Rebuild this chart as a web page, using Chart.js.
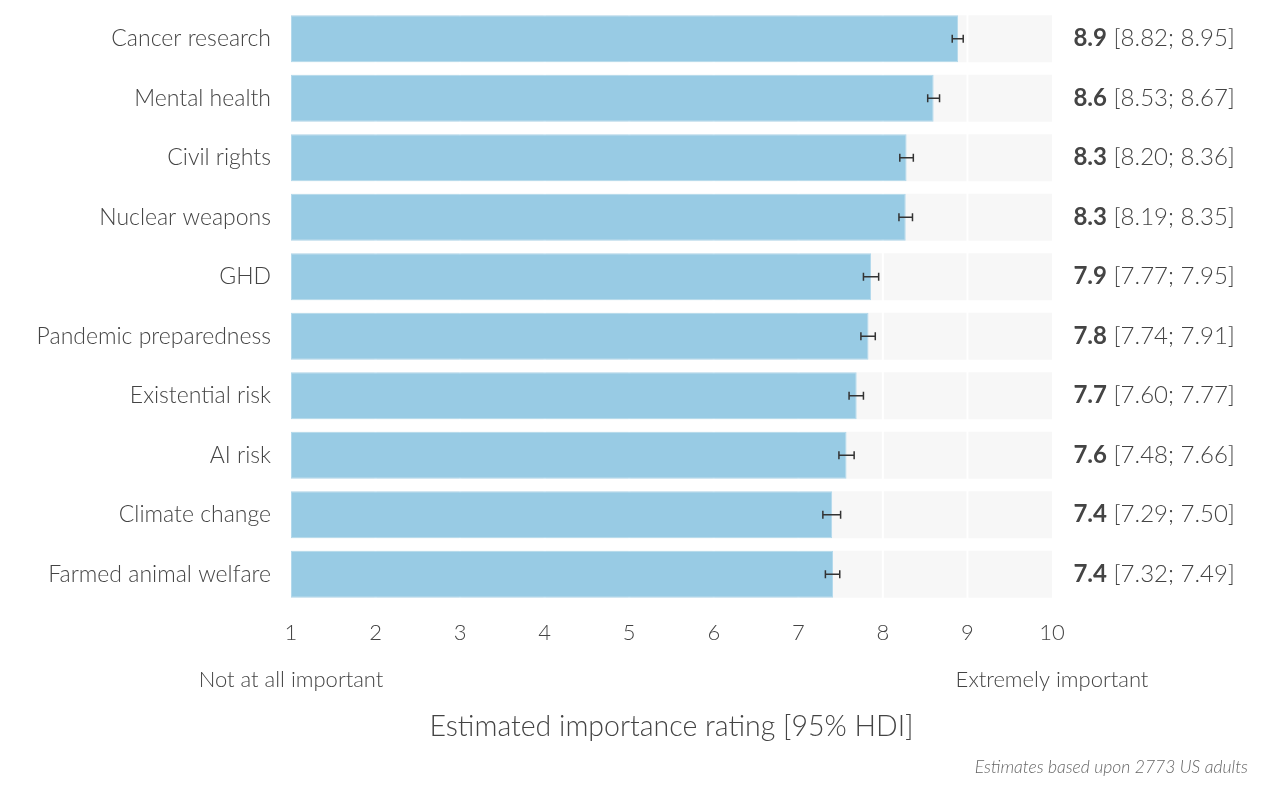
<!DOCTYPE html>
<html>
<head>
<meta charset="utf-8">
<script src="https://cdn.jsdelivr.net/npm/chart.js@4.4.1/dist/chart.umd.min.js"></script>
<style>
  html, body { margin: 0; padding: 0; background: #fff; }
  #wrap { width: 1280px; height: 791px; }
</style>
</head>
<body>
<div id="wrap"><canvas id="grafica"></canvas></div>
<script>
const categorias = ["Cancer research", "Mental health", "Civil rights", "Nuclear weapons", "GHD",
  "Pandemic preparedness", "Existential risk", "AI risk", "Climate change", "Farmed animal welfare"];
const medias = [8.89, 8.60, 8.28, 8.27, 7.86, 7.83, 7.69, 7.57, 7.40, 7.41];
const bajos = [8.82, 8.53, 8.20, 8.19, 7.77, 7.74, 7.60, 7.48, 7.29, 7.32];
const altos = [8.95, 8.67, 8.36, 8.35, 7.95, 7.91, 7.77, 7.66, 7.50, 7.49];
const escalaMin = 1;
const escalaMax = 10;
const etiquetasExtremos = { 1: "Not at all important", 10: "Extremely important" };

const FUENTE = "Lato, 'Noto Sans', sans-serif";
const GRIS_TEXTO = "#444";

// lineas blancas de la rejilla, encima de la pista gris y debajo de la barra azul
const rejillaBlanca = {
  id: "rejillaBlanca",
  beforeDatasetDraw(chart, args) {
    if (args.index !== 0) return;
    const { ctx, chartArea, scales } = chart;
    ctx.save();
    ctx.strokeStyle = "#fff";
    ctx.lineWidth = 2;
    for (let v = escalaMin + 1; v < escalaMax; v++) {
      const x = scales.x.getPixelForValue(v);
      ctx.beginPath();
      ctx.moveTo(x, chartArea.top);
      ctx.lineTo(x, chartArea.bottom);
      ctx.stroke();
    }
    ctx.restore();
  }
};

const barrasError = {
  id: "barrasError",
  afterDatasetsDraw(chart) {
    const { ctx, scales } = chart;
    const meta = chart.getDatasetMeta(0);
    ctx.save();
    ctx.strokeStyle = "#333";
    ctx.lineWidth = 1.5;
    meta.data.forEach((bar, i) => {
      const x1 = scales.x.getPixelForValue(bajos[i]);
      const x2 = scales.x.getPixelForValue(altos[i]);
      const y = bar.y;
      ctx.beginPath();
      ctx.moveTo(x1, y); ctx.lineTo(x2, y);
      ctx.moveTo(x1, y - 4); ctx.lineTo(x1, y + 4);
      ctx.moveTo(x2, y - 4); ctx.lineTo(x2, y + 4);
      ctx.stroke();
    });
    ctx.restore();
  }
};

const textosExtra = {
  id: "textosExtra",
  afterDraw(chart) {
    const { ctx } = chart;
    const meta = chart.getDatasetMeta(0);
    ctx.save();
    ctx.textBaseline = "middle";
    ctx.textAlign = "right";
    meta.data.forEach((bar, i) => {
      const normal = " [" + bajos[i].toFixed(2) + "; " + altos[i].toFixed(2) + "]";
      const negrita = medias[i].toFixed(1);
      const xFin = 1235;
      ctx.font = "300 24px " + FUENTE;
      ctx.fillStyle = GRIS_TEXTO;
      ctx.fillText(normal, xFin, bar.y);
      const w = ctx.measureText(normal).width;
      ctx.font = "bold 24px " + FUENTE;
      ctx.fillStyle = "#444";
      ctx.fillText(negrita, xFin - w, bar.y);
    });
    ctx.font = "italic 300 17.5px " + FUENTE;
    ctx.fillStyle = "#666";
    ctx.fillText("Estimates based upon 2773 US adults", 1248, 767);
    ctx.restore();
  }
};

new Chart(document.getElementById("grafica"), {
  type: "bar",
  data: {
    labels: categorias,
    datasets: [
      {
        label: "Importance",
        data: medias.map(m => [escalaMin, m]),
        backgroundColor: "#98cbe4",
        borderColor: "#b3d9ec",
        borderWidth: 1,
        borderSkipped: false,
        categoryPercentage: 0.79,
        barPercentage: 1,
        grouped: false,
        order: 1
      },
      {
        label: "Track",
        data: categorias.map(() => [escalaMin, escalaMax]),
        backgroundColor: "#f7f7f7",
        categoryPercentage: 0.79,
        barPercentage: 1,
        grouped: false,
        order: 2
      }
    ]
  },
  options: {
    indexAxis: "y",
    responsive: true,
    maintainAspectRatio: false,
    animation: false,
    layout: { padding: { top: 9, right: 228, bottom: 37, left: 0 } },
    plugins: { legend: { display: false }, tooltip: { enabled: false } },
    scales: {
      x: {
        min: escalaMin,
        max: escalaMax,
        grid: { display: false, drawTicks: false },
        border: { display: false },
        afterFit: s => { s.height = 150; s.paddingLeft = 0; s.paddingRight = 0; },
        ticks: {
          stepSize: 1,
          autoSkip: false,
          maxRotation: 0,
          padding: 17,
          color: GRIS_TEXTO,
          font: { family: FUENTE, size: 22, weight: 300, lineHeight: 1.07 },
          callback: v => etiquetasExtremos[v] ? [String(v), "", etiquetasExtremos[v]] : String(v)
        },
        title: {
          display: true,
          text: "Estimated importance rating [95% HDI]",
          color: GRIS_TEXTO,
          font: { family: FUENTE, size: 28.5, weight: 300 },
          padding: { top: 0, bottom: 10 }
        }
      },
      y: {
        grid: { display: false, drawTicks: false },
        border: { display: false },
        afterFit: s => { s.width = 291; s.paddingTop = 0; s.paddingBottom = 0; },
        ticks: {
          padding: 20,
          color: GRIS_TEXTO,
          font: { family: FUENTE, size: 23, weight: 300 }
        }
      }
    }
  },
  plugins: [rejillaBlanca, barrasError, textosExtra]
});
</script>
</body>
</html>
